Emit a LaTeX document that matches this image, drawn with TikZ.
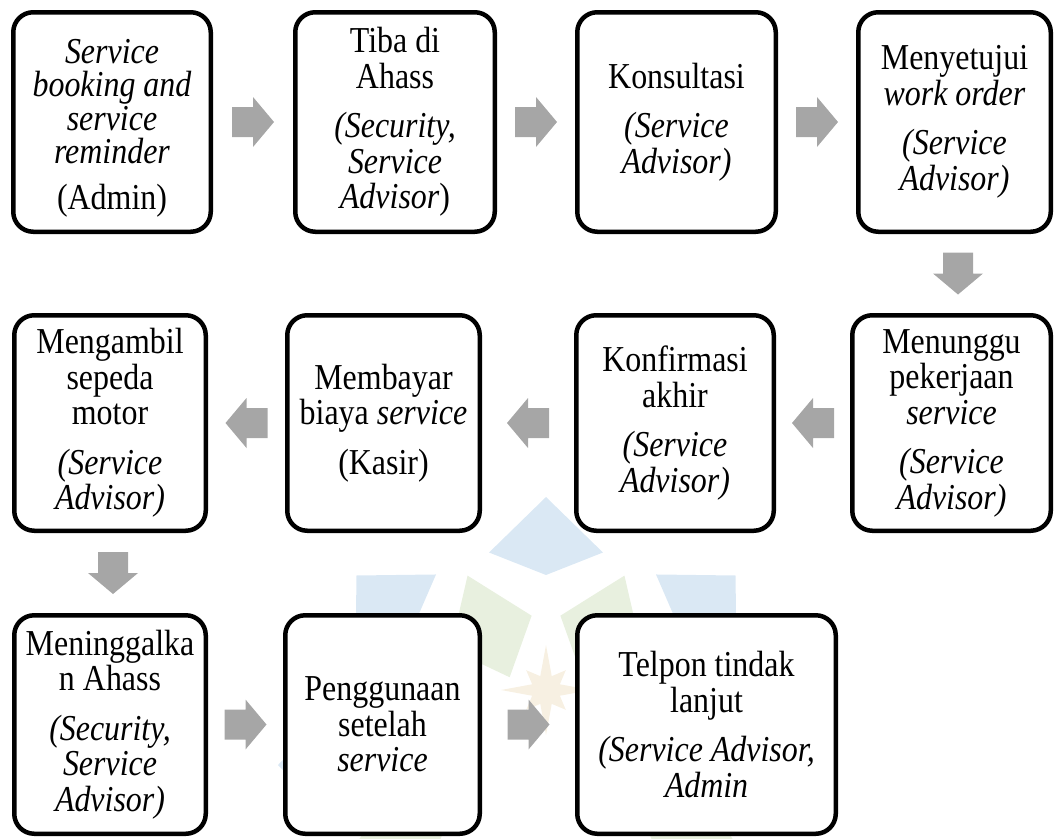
\documentclass[tikz,border=0pt]{standalone}
\usepackage{fontspec}
\setmainfont{Liberation Serif}[FakeStretch=0.875]
\usetikzlibrary{calc}
\definecolor{arrowgray}{HTML}{A6A6A6}
\definecolor{wmblue}{HTML}{DAE8F4}
\definecolor{wmgreen}{HTML}{E8F0DF}
\definecolor{wmstar}{HTML}{F7F0E2}
\begin{document}
\begin{tikzpicture}[x=1pt,y=-1pt,
  box/.style={draw=black, line width=4.5pt, rounded corners=20pt, fill=white,
    align=center, inner sep=0pt, font=\fontsize{36.5}{35.5}\selectfont},
  pics/blockarrow/.style={code={
    \fill[arrowgray] (-21,-15) -- (0,-15) -- (0,-25) -- (21,0) -- (0,25) -- (0,15) -- (-21,15) -- cycle;}}
]
\useasboundingbox (0,0) rectangle (1056,838);
% faint watermark
\coordinate (wc) at (546,765);
\foreach \k in {0,...,7} {
  \pgfmathsetmacro\ta{45*\k}
  \pgfmathsetmacro\tb{45*\k+15}
  \pgfmathsetmacro\tc{45*\k-15}
  \pgfmathsetmacro\ga{45*\k+22.5}
  \pgfmathsetmacro\gb{45*\k+22.5+17}
  \pgfmathsetmacro\gc{45*\k+22.5-17}
  \fill[wmblue] ($(wc)+(\ta:268)$) -- ($(wc)+(\tb:220)$) -- ($(wc)+(\ta:190)$) -- ($(wc)+(\tc:220)$) -- cycle;
  \fill[wmgreen] ($(wc)+(\ga:205)$) -- ($(wc)+(\gb:150)$) -- ($(wc)+(\ga:95)$) -- ($(wc)+(\gc:150)$) -- cycle;
}
\coordinate (sc) at (546,690);
\fill[wmstar] ($(sc)+(270:45)$) -- ($(sc)+(292.5:15)$) -- ($(sc)+(315:28)$) -- ($(sc)+(337.5:15)$)
  -- ($(sc)+(0:45)$) -- ($(sc)+(22.5:15)$) -- ($(sc)+(45:28)$) -- ($(sc)+(67.5:15)$)
  -- ($(sc)+(90:45)$) -- ($(sc)+(112.5:15)$) -- ($(sc)+(135:28)$) -- ($(sc)+(157.5:15)$)
  -- ($(sc)+(180:45)$) -- ($(sc)+(202.5:15)$) -- ($(sc)+(225:28)$) -- ($(sc)+(247.5:15)$) -- cycle;

% row 1
\node[box, minimum width=197.5, minimum height=219.5, font=\fontsize{36.5}{33.5}\selectfont] (b1) at (112,122)
  {\rule{0pt}{36pt}\textit{Service}\\\textit{booking and}\\\textit{service}\\\textit{reminder}\\[12pt](Admin)};
\node[box, minimum width=199.5, minimum height=219.5] (b2) at (395,122)
  {Tiba di\\Ahass\\[14pt]\textit{(Security,}\\\textit{Service}\\\textit{Advisor})};
\node[box, minimum width=198.5, minimum height=219.5] (b3) at (676.5,122)
  {Konsultasi\\[14pt]\textit{(Service}\\\textit{Advisor)}};
\node[box, minimum width=192.5, minimum height=219.5] (b4) at (954.5,122)
  {Menyetujui\\\textit{work order}\\[14pt]\textit{(Service}\\\textit{Advisor)}};
% row 2
\node[box, minimum width=198.5, minimum height=215.5] (b5) at (951.5,423)
  {Menunggu\\pekerjaan\\\textit{service}\\[14pt]\textit{(Service}\\\textit{Advisor)}};
\node[box, minimum width=197.5, minimum height=215.5] (b6) at (675,423)
  {Konfirmasi\\akhir\\[14pt]\textit{(Service}\\\textit{Advisor)}};
\node[box, minimum width=192.5, minimum height=215.5] (b7) at (383.5,423)
  {Membayar\\biaya \textit{service}\\[14pt](Kasir)};
\node[box, minimum width=191.5, minimum height=215.5] (b8) at (110,423)
  {Mengambil\\sepeda\\motor\\[14pt]\textit{(Service}\\\textit{Advisor)}};
% row 3
\node[box, minimum width=191.5, minimum height=218.5] (b9) at (110,724.5)
  {Meninggalka\\n Ahass\\[14pt]\textit{(Security,}\\\textit{Service}\\\textit{Advisor)}};
\node[box, minimum width=194.5, minimum height=218.5] (b10) at (382.5,724.5)
  {Penggunaan\\setelah\\\textit{service}};
\node[box, minimum width=258.5, minimum height=218.5] (b11) at (706.5,724.5)
  {Telpon tindak\\lanjut\\[14pt]\textit{(Service Advisor,}\\\textit{Admin}};

% block arrows
\pic at ($(b1.east)!0.5!(b2.west)$) {blockarrow};
\pic at ($(b2.east)!0.5!(b3.west)$) {blockarrow};
\pic at ($(b3.east)!0.5!(b4.west)$) {blockarrow};
\pic[rotate=-90] at ($(b4.south)!0.5!(b5.north)+(5,0)$) {blockarrow};
\pic[rotate=180] at ($(b5.west)!0.5!(b6.east)$) {blockarrow};
\pic[rotate=180] at ($(b6.west)!0.5!(b7.east)$) {blockarrow};
\pic[rotate=180] at ($(b7.west)!0.5!(b8.east)$) {blockarrow};
\pic[rotate=-90] at ($(b8.south)!0.5!(b9.north)+(3,0)$) {blockarrow};
\pic at ($(b9.east)!0.5!(b10.west)$) {blockarrow};
\pic at ($(b10.east)!0.5!(b11.west)$) {blockarrow};
\end{tikzpicture}
\end{document}
